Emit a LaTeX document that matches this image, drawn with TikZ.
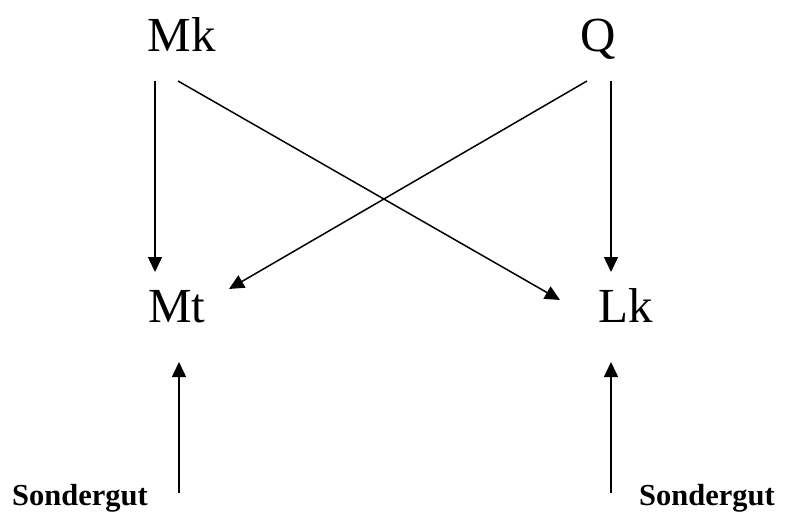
\documentclass[tikz,border=0pt]{standalone}
\usepackage{fontspec}
\setmainfont{Liberation Serif}
\usetikzlibrary{arrows.meta,calc}
\begin{document}
\begin{tikzpicture}[x=1pt,y=-1pt,
  lbl/.style={anchor=base,inner sep=0pt,font=\fontsize{49}{49}\selectfont},
  src/.style={anchor=base,inner sep=0pt,font=\fontsize{30.5}{30.5}\selectfont\bfseries},
  arr/.style={line width=1.5pt,-{Triangle[length=15pt,width=14pt]}}]
\useasboundingbox (0,0) rectangle (786,513);
\node[lbl] (Mk) at (182,52) {Mk};
\node[lbl] (Q) at (598,52) {Q};
\node[lbl] (Mt) at (177,322) {Mt};
\node[lbl] (Lk) at (626,322) {Lk};
\node[src] (S1) at (80,505) {Sondergut};
\node[src] (S2) at (707,505) {Sondergut};
\draw[arr] ($(Mk.base)+(-27,29)$) -- ($(Mt.base)+(-22,-50)$);
\draw[arr] ($(Mk.base)+(-4,29)$) -- ($(Lk.base)+(-66,-22)$);
\draw[arr] ($(Q.base)+(-11,29)$) -- ($(Mt.base)+(52,-33)$);
\draw[arr] ($(Q.base)+(13,29)$) -- ($(Lk.base)+(-15,-50)$);
\draw[arr] ($(S1.base)+(99,-12)$) -- ($(Mt.base)+(2,40)$);
\draw[arr] ($(S2.base)+(-96,-12)$) -- ($(Lk.base)+(-15,40)$);
\end{tikzpicture}
\end{document}
